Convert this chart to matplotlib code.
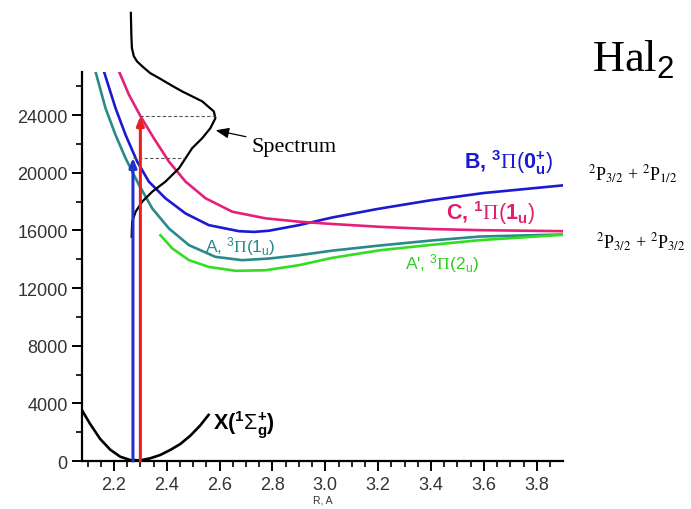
import matplotlib
matplotlib.use("Agg")
import matplotlib.pyplot as plt

plt.rcParams['font.family'] = ['Liberation Sans', 'DejaVu Sans']
plt.rcParams['mathtext.fontset'] = 'custom'
plt.rcParams['mathtext.rm'] = 'Liberation Sans'
plt.rcParams['mathtext.bf'] = 'Liberation Sans:bold'
plt.rcParams['mathtext.it'] = 'Liberation Sans:italic'
plt.rcParams['mathtext.sf'] = 'Liberation Serif'

# potential curves, R in Angstrom, energy in cm-1
x_X = [2.08, 2.110, 2.148, 2.186, 2.224, 2.262, 2.300, 2.337, 2.375, 2.413,
       2.451, 2.489, 2.526, 2.558]
e_X = [3500, 2570, 1530, 790, 300, 70, 50, 190, 420, 770,
       1180, 1760, 2460, 3200]

x_A = [2.130, 2.168, 2.206, 2.244, 2.295, 2.345, 2.408, 2.484, 2.584, 2.685,
       2.786, 2.900, 3.026, 3.208, 3.4, 3.586, 3.9]
e_A = [27040, 24490, 22630, 21010, 19150, 17530, 16140, 14980, 14170, 13940,
       14050, 14280, 14600, 14960, 15300, 15580, 15720]

x_A2 = [2.376, 2.421, 2.484, 2.559, 2.660, 2.774, 2.900, 3.026, 3.208, 3.4,
        3.586, 3.9]
e_A2 = [15670, 14750, 13940, 13470, 13200, 13240, 13590, 14100, 14630, 15000,
        15330, 15700]

x_B = [2.162, 2.206, 2.244, 2.288, 2.332, 2.395, 2.471, 2.559, 2.673, 2.73,
       2.786, 2.900, 3.026, 3.2, 3.4, 3.6, 3.9]
e_B = [27040, 24490, 22630, 20780, 19390, 18230, 17180, 16370, 15950, 15900,
       15980, 16370, 16900, 17500, 18100, 18600, 19130]

x_C = [2.219, 2.257, 2.301, 2.351, 2.408, 2.471, 2.547, 2.648, 2.774, 2.900,
       3.026, 3.208, 3.4, 3.586, 3.9]
e_C = [27040, 25410, 23910, 22400, 20780, 19390, 18230, 17300, 16840, 16610,
       16450, 16250, 16100, 16020, 15950]

# absorption spectrum drawn sideways
x_spec = [2.264, 2.266, 2.268, 2.275, 2.287, 2.307, 2.337, 2.370, 2.424, 2.458,
          2.534, 2.578, 2.584, 2.565, 2.534, 2.496, 2.471, 2.446, 2.395, 2.345,
          2.307, 2.282, 2.269, 2.267]
e_spec = [31100, 29500, 28660, 28100, 27740, 27390, 26920, 26580, 26000, 25650,
          24960, 24260, 23790, 23100, 22400, 21710, 21010, 20310, 19390, 18690,
          18000, 17300, 16610, 15560]

# excitation arrows: (R, top energy, end of dashed line)
arr_B = (2.272, 21050, 2.465)
arr_C = (2.30, 23950, 2.584)

fig = plt.figure(figsize=(6.91, 5.10), dpi=100)
ax = fig.add_axes([0.119, 0.094, 0.696, 0.763])

lw = 1.9
ax.plot(x_A, e_A, color="#2a8a8a", lw=lw)
ax.plot(x_A2, e_A2, color="#33dd22", lw=lw)
ax.plot(x_B, e_B, color="#1a1ad0", lw=lw)
ax.plot(x_C, e_C, color="#e5207a", lw=lw)
ax.plot(x_X, e_X, color="black", lw=lw)
ax.plot(x_spec, e_spec, color="black", lw=1.6, clip_on=False)

for (r, top, xend), col in [(arr_B, "#2233cc"), (arr_C, "#ee1c1c")]:
    ax.plot([r, xend], [top, top], ls="--", color="#555555", lw=0.8, dashes=(3, 2))
    ax.annotate("", xy=(r, top), xytext=(r, 0),
                arrowprops=dict(arrowstyle="-|>,head_length=0.55,head_width=0.22",
                                color=col, lw=2.2, shrinkA=0, shrinkB=0))

ax.annotate("Spectrum", xy=(2.585, 22950), xytext=(2.72, 21800),
            fontsize=16, family="Liberation Serif", va="center",
            arrowprops=dict(arrowstyle="-|>,head_length=0.5,head_width=0.2",
                            color="black", lw=0.9, shrinkA=2, shrinkB=0))

ax.text(3.525, 20800, r"B, $^{\mathbf{3}}\mathsf{\Pi}(\mathbf{0}_{\mathbf{u}}^{\mathbf{+}})$",
        color="#1a1ad0", fontsize=15.5, fontweight="bold", va="center")
ax.text(3.455, 17250, r"C, $^{\mathbf{1}}\mathsf{\Pi}(\mathbf{1}_{\mathbf{u}})$",
        color="#e0206e", fontsize=15.5, fontweight="bold", va="center")
ax.text(2.545, 14950, r"A, $^3\mathsf{\Pi}(1_\mathrm{u})$", color="#2a8a8a",
        fontsize=12.5, va="center")
ax.text(3.30, 13800, r"A', $^3\mathsf{\Pi}(2_\mathrm{u})$", color="#33cc22",
        fontsize=12.5, va="center")
ax.text(2.575, 2550, r"X($^{\mathbf{1}}\Sigma_{\mathbf{g}}^{\mathbf{+}}$)",
        color="black", fontsize=15.5, fontweight="bold", va="center")

fig.text(0.857, 0.882, r"Hal$_2$", fontsize=32, family="Liberation Serif",
         va="center")
serif = dict(fontsize=13, family="Liberation Serif", va="center",
             math_fontfamily="stix")
fig.text(0.851, 0.657, r"$^2$P$_{3/2}$ + $^2$P$_{1/2}$", **serif)
fig.text(0.862, 0.524, r"$^2$P$_{3/2}$ + $^2$P$_{3/2}$", **serif)

ax.set_xlim(2.08, 3.9)
ax.set_ylim(0, 27000)
ax.set_xticks([2.2, 2.4, 2.6, 2.8, 3.0, 3.2, 3.4, 3.6, 3.8])
ax.set_xticks([2.1 + 0.05 * i for i in range(37) if 2.1 + 0.05 * i <= 3.9], minor=True)
ax.set_yticks(range(0, 24001, 4000))
ax.set_yticks(range(2000, 27000, 4000), minor=True)
ax.set_xticklabels(["2.2", "2.4", "2.6", "2.8", "3.0", "3.2", "3.4", "3.6", "3.8"])
ax.set_xlabel("R, A", fontsize=7.5, color="#333333", labelpad=1)

for s in ["top", "right"]:
    ax.spines[s].set_visible(False)
for s in ["left", "bottom"]:
    ax.spines[s].set_linewidth(1.6)
ax.tick_params(which="major", direction="out", length=7, width=1.4,
               labelsize=13, labelcolor="#333333")
ax.tick_params(which="minor", direction="out", length=4, width=1.2)

fig.savefig("out.png", dpi=100)
